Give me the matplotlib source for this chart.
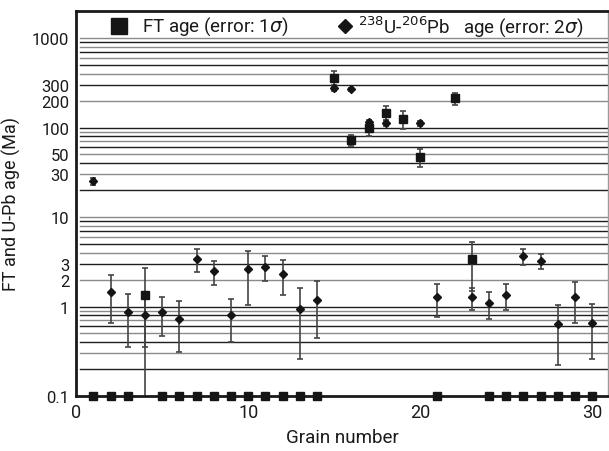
import numpy as np
import matplotlib
matplotlib.use("Agg")
import matplotlib.pyplot as plt

# grain numbers
grains = np.arange(1, 31)

# FT ages (Ma), 1 sigma; 0.1 is used for grains plotted on the bottom axis
ft_age = [0.1, 0.1, 0.1, 1.34, 0.1, 0.1, 0.1, 0.1, 0.1, 0.1,
          0.1, 0.1, 0.1, 0.1, 360, 72, 98, 147, 124, 47,
          0.1, 213, 3.4, 0.1, 0.1, 0.1, 0.1, 0.1, 0.1, 0.1]
ft_err = [0, 0, 0, 1.33, 0, 0, 0, 0, 0, 0,
          0, 0, 0, 0, 65, 10.5, 17, 25, 28, 11,
          0, 33, 1.9, 0, 0, 0, 0, 0, 0, 0]

# 238U-206Pb ages (Ma), 2 sigma
upb_age = [25, 1.46, 0.87, 0.80, 0.87, 0.73, 3.4, 2.49, 0.80, 2.6,
           2.79, 2.31, 0.94, 1.18, 274, 269, 114, 111, np.nan, 111,
           1.27, np.nan, 1.27, 1.09, 1.35, 3.65, 3.26, 0.63, 1.27, 0.66]
upb_err = [2.5, 0.8, 0.52, 0.45, 0.4, 0.42, 1.0, 0.77, 0.4, 1.55,
           0.85, 0.96, 0.68, 0.73, 15, 10, 7, 6, np.nan, 6,
           0.5, np.nan, 0.36, 0.36, 0.44, 0.77, 0.64, 0.41, 0.62, 0.4]

ytick_vals = [0.1, 1, 2, 3, 10, 30, 50, 100, 200, 300, 1000]
xtick_vals = [0, 10, 20, 30]

plt.rcParams['font.family'] = ['Roboto', 'DejaVu Sans']
plt.rcParams['mathtext.fontset'] = 'dejavusans'

fig = plt.figure(figsize=(6.09, 4.52), dpi=100)
ax = fig.add_axes([0.125, 0.1217, 0.873, 0.8524])
ax.set_yscale('log')
ax.set_ylim(0.1, 2020)
ax.set_xlim(0, 30.9)

# horizontal lines at every log step
grid_vals = []
for dec in [0.1, 1, 10, 100]:
    for m in range(2, 11):
        grid_vals.append(m * dec)
for i, v in enumerate(grid_vals):
    col = '#1e1e1e' if i % 2 == 0 else '#8a8a8a'
    ax.axhline(v, xmin=0.008, color=col, lw=1.0, zorder=1)

ebar = dict(fmt='none', ecolor='#444444', elinewidth=1.2, capsize=2.5,
            capthick=1.2)
ax.errorbar(grains, upb_age, yerr=upb_err, zorder=2, **ebar)
ax.errorbar(grains, ft_age, yerr=ft_err, zorder=2, **ebar)
ax.plot(grains, upb_age, 'D', color='#151515', ms=3.8, zorder=3)
ax.plot(grains, ft_age, 's', color='#151515', ms=5.2, zorder=4,
        clip_on=False)

ax.set_yticks(ytick_vals)
ax.set_yticklabels([str(v) for v in ytick_vals])
ax.minorticks_off()
ax.set_xticks(xtick_vals)
ax.tick_params(length=0, labelsize=12, pad=5, colors='#1a1a1a')
ax.tick_params(axis='x', labelsize=13)

for s in ['left', 'bottom', 'top']:
    ax.spines[s].set_linewidth(2)
    ax.spines[s].set_color('#1a1a1a')
ax.spines['right'].set_linewidth(1)
ax.spines['right'].set_color('#9a9a9a')

ax.set_xlabel('Grain number', fontsize=13.5, color='#1a1a1a', labelpad=5)
ax.set_ylabel('FT and U-Pb age (Ma)', fontsize=13, color='#1a1a1a',
              labelpad=8)

# legend drawn by hand, in axes fractions
ax.plot([0.0815], [0.960], 's', color='#151515', ms=11,
        transform=ax.transAxes, clip_on=False)
ax.text(0.124, 0.960, r'FT age (error: 1$\sigma$)', fontsize=13.5,
        transform=ax.transAxes, va='center', ha='left', color='#1a1a1a')
ax.plot([0.505], [0.960], 'D', color='#151515', ms=7.5,
        transform=ax.transAxes, clip_on=False)
ax.text(0.530, 0.960, r'$^{238}$U-$^{206}$Pb   age (error: 2$\sigma$)',
        fontsize=13.5, transform=ax.transAxes, va='center', ha='left',
        color='#1a1a1a')

fig.savefig('out.png', dpi=100)
